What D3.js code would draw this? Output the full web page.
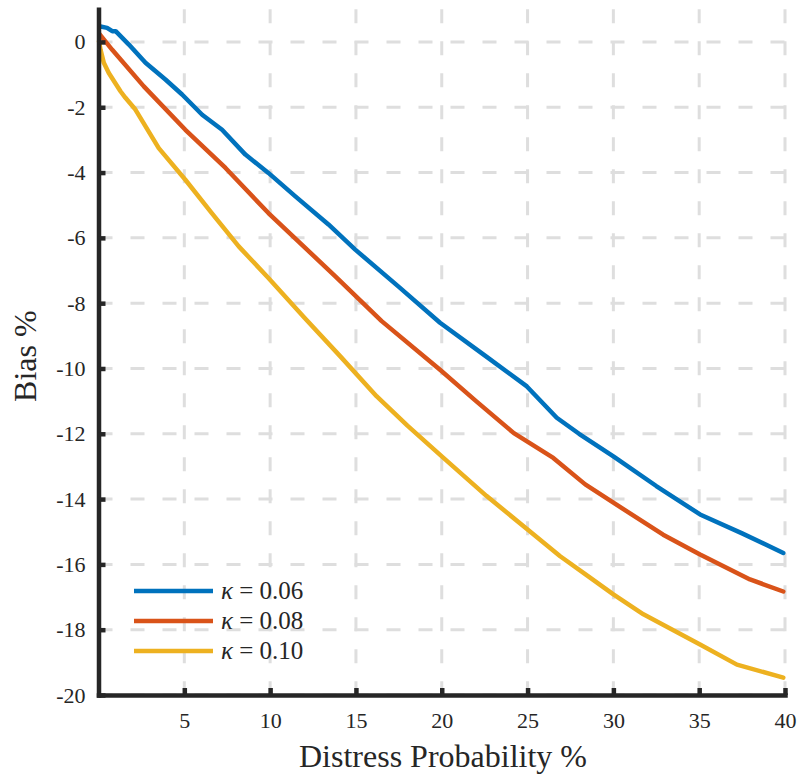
<!DOCTYPE html>
<html>
<head>
<meta charset="utf-8">
<script src="https://cdn.jsdelivr.net/npm/d3@7"></script>
<style>
  body { margin: 0; background: #fff; }
</style>
</head>
<body>
<script>
// data
var kappaLabels = ["0.06", "0.08", "0.10"],
    colors = ["#0072BD", "#D95319", "#EDB120"];

var blueX = [0.05, 0.5, 0.8, 1.0, 1.77, 2.74, 3.9, 4.87, 6.04, 7.2, 8.56, 9.9, 11.47, 13.4, 14.96, 17.5, 19.9, 22.5, 24.96, 26.7, 28.0, 30.0, 32.5, 35.05, 37.5, 39.9],
    blueY = [0.48, 0.43, 0.33, 0.33, -0.08, -0.64, -1.15, -1.61, -2.23, -2.69, -3.45, -4.01, -4.73, -5.59, -6.36, -7.5, -8.6, -9.6, -10.55, -11.51, -12.0, -12.69, -13.6, -14.47, -15.05, -15.65];

var redX = [0.05, 0.8, 2.64, 5.06, 7.4, 9.9, 13.8, 16.5, 19.9, 22.0, 24.2, 26.5, 28.36, 30.0, 32.9, 35.05, 37.96, 39.9],
    redY = [0.25, -0.24, -1.36, -2.69, -3.86, -5.24, -7.18, -8.55, -10.04, -11.0, -11.98, -12.74, -13.55, -14.11, -15.09, -15.7, -16.46, -16.83];

var yellowX = [0.03, 0.12, 0.31, 0.6, 1.28, 1.57, 2.15, 3.51, 5.06, 6.6, 8.17, 9.9, 12.0, 14.09, 16.2, 18.0, 20.1, 22.6, 25.0, 26.9, 28.5, 30.0, 31.75, 35.05, 37.2, 39.9],
    yellowY = [0.02, -0.24, -0.64, -0.95, -1.51, -1.71, -2.07, -3.25, -4.22, -5.24, -6.26, -7.23, -8.45, -9.63, -10.85, -11.75, -12.74, -13.9, -14.93, -15.75, -16.35, -16.92, -17.53, -18.45, -19.07, -19.47];

var xTicks = [5, 10, 15, 20, 25, 30, 35, 40],
    yTicks = [0, -2, -4, -6, -8, -10, -12, -14, -16, -18, -20];

var series = [
  { label: kappaLabels[0], xs: blueX, ys: blueY, color: colors[0] },
  { label: kappaLabels[1], xs: redX, ys: redY, color: colors[1] },
  { label: kappaLabels[2], xs: yellowX, ys: yellowY, color: colors[2] }
];

var W = 801, H = 775,
    pLeft = 98.5, pRight = 785, pTop = 9.3, pBottom = 695,
    serif = "'Liberation Serif', 'Times New Roman', serif",
    ink = "#262626";

var x = d3.scaleLinear().domain([0, 40]).range([pLeft, pRight]),
    y = d3.scaleLinear().domain([-20, 1]).range([pBottom, pTop]);

var svg = d3.select("body").append("svg")
    .attr("width", W)
    .attr("height", H);

// grid
var grid = svg.append("g")
    .attr("stroke", "#dedede")
    .attr("stroke-width", 3)
    .attr("stroke-dasharray", "14,18");

grid.selectAll(".vg")
    .data(xTicks)
  .enter().append("line")
    .attr("x1", function(d) { return x(d); })
    .attr("x2", function(d) { return x(d); })
    .attr("y1", pTop)
    .attr("y2", pBottom);

grid.selectAll(".hg")
    .data(yTicks)
  .enter().append("line")
    .attr("x1", pLeft)
    .attr("x2", pRight)
    .attr("y1", function(d) { return y(d); })
    .attr("y2", function(d) { return y(d); });

// lines
var line = d3.line()
    .x(function(d) { return x(d[0]); })
    .y(function(d) { return y(d[1]); });

svg.append("g").selectAll("path")
    .data(series)
  .enter().append("path")
    .attr("fill", "none")
    .attr("stroke", function(d) { return d.color; })
    .attr("stroke-width", 4.5)
    .attr("stroke-linejoin", "round")
    .attr("stroke-linecap", "round")
    .attr("d", function(d) {
      return line(d.xs.map(function(v, i) { return [v, d.ys[i]]; }));
    });

// axes
var xAxis = svg.append("g")
    .attr("transform", "translate(0," + pBottom + ")")
    .call(d3.axisBottom(x).tickValues(xTicks).tickSizeInner(-7).tickSizeOuter(0).tickPadding(17));

var yAxis = svg.append("g")
    .attr("transform", "translate(" + pLeft + ",0)")
    .call(d3.axisLeft(y).tickValues(yTicks).tickSizeInner(-7).tickSizeOuter(0).tickPadding(13)
      .tickFormat(function(d) { return d < 0 ? "-" + (-d) : d; }));

[xAxis, yAxis].forEach(function(a) {
  a.attr("font-family", null);
  a.select(".domain").attr("stroke", ink).attr("stroke-width", 4.5).attr("stroke-linecap", "square");
  a.selectAll(".tick line").attr("stroke", ink).attr("stroke-width", 4.5);
  a.selectAll(".tick text").attr("fill", ink)
    .style("font-family", serif)
    .style("font-size", "22px");
});

// axis titles
svg.append("text")
    .attr("x", 443)
    .attr("y", 767)
    .attr("text-anchor", "middle")
    .attr("fill", ink)
    .style("font-family", serif)
    .style("font-size", "32px")
    .text("Distress Probability %");

svg.append("text")
    .attr("transform", "translate(36," + ((pTop + pBottom) / 2 + 4) + ") rotate(-90)")
    .attr("text-anchor", "middle")
    .attr("fill", ink)
    .style("font-family", serif)
    .style("font-size", "32px")
    .text("Bias %");

// legend
var legend = svg.append("g").selectAll("g")
    .data(series)
  .enter().append("g")
    .attr("transform", function(d, i) { return "translate(134," + (591 + i * 30) + ")"; });

legend.append("line")
    .attr("x1", 0).attr("x2", 79)
    .attr("stroke", function(d) { return d.color; })
    .attr("stroke-width", 4.5);

var lt = legend.append("text")
    .attr("x", 87)
    .attr("y", 8)
    .attr("fill", ink)
    .style("font-family", serif)
    .style("font-size", "25px");
lt.append("tspan").style("font-style", "italic").text("κ");
lt.append("tspan").text(function(d) { return " = " + d.label; });
</script>
</body>
</html>
